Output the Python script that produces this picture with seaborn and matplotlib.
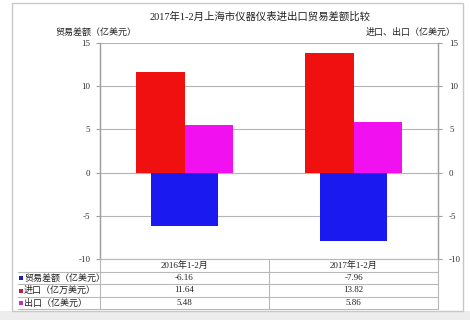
import matplotlib
matplotlib.use('Agg')
import matplotlib.pyplot as plt
import seaborn as sns
import pandas as pd
from matplotlib.patches import Rectangle
from matplotlib.lines import Line2D

# ---- data ----
categories = ['2016年1-2月', '2017年1-2月']
balance = [-6.16, -7.96]
imports = [11.64, 13.82]
exports = [5.48, 5.86]
row_labels = ['贸易差额（亿美元）', '进口（亿万美元）', '出口（亿美元）']
yticks = [-10, -5, 0, 5, 10, 15]
title = '2017年1-2月上海市仪器仪表进出口贸易差额比较'
left_label = '贸易差额（亿美元）'
right_label = '进口、出口（亿美元）'

blue = '#1a1af0'
red = '#f01010'
magenta = '#f010f0'
key_colors = ['#2020b0', '#c02040', '#c030c0']

sns.set_theme(style='white')
plt.rcParams['font.family'] = ['Liberation Serif', 'Noto Sans CJK SC', 'DejaVu Sans']
plt.rcParams['axes.unicode_minus'] = False

W, H = 470, 320
fig = plt.figure(figsize=(4.7, 3.2), dpi=100)
fig.patch.set_facecolor('white')


def fx(x):
    return x / W


def fy(y):
    return 1 - y / H


# outer frame and bottom background
fig.add_artist(Rectangle((0, 0), 1, fy(311), transform=fig.transFigure,
                         facecolor='#ededed', edgecolor='none', zorder=0))
fig.add_artist(Rectangle((fx(12), fy(311)), fx(463) - fx(12), fy(3) - fy(311),
                         transform=fig.transFigure, facecolor='white',
                         edgecolor='#c8c8c8', lw=1.0, zorder=0))

ax = fig.add_axes([fx(100), fy(259), fx(438) - fx(100), fy(43) - fy(259)])
ax2 = ax.twinx()
ax.patch.set_alpha(0)
ax2.patch.set_alpha(0)

# grid
ax.set_axisbelow(True)
ax.yaxis.grid(True, color='#b4b4b4', lw=0.8)

# balance bars (left axis)
sns.barplot(x=categories, y=balance, color=blue, width=0.4, ax=ax,
            saturation=1, edgecolor='none', zorder=2)

# imports / exports (right axis)
df = pd.DataFrame({
    'cat': categories * 2,
    'series': ['进口'] * len(categories) + ['出口'] * len(categories),
    'value': imports + exports,
})
sns.barplot(data=df, x='cat', y='value', hue='series', palette=[red, magenta],
            width=0.57, ax=ax2, saturation=1, edgecolor='none', legend=False)

for a in (ax, ax2):
    a.set_ylim(-10, 15)
    a.set_yticks(yticks)
    a.set_xlim(-0.5, 1.5)
    a.set_xticks([])
    a.set_xlabel('')
    a.set_ylabel('')
    for s in ('top', 'bottom'):
        a.spines[s].set_visible(False)
    a.spines['left'].set_color('#a0a0a0')
    a.spines['right'].set_color('#a0a0a0')
    a.spines['left'].set_linewidth(0.9)
    a.spines['right'].set_linewidth(0.9)

ax.tick_params(axis='y', left=True, direction='out', length=3, width=0.8,
               color='#a0a0a0', labelsize=6.5, pad=4, labelcolor='#333333')
ax2.tick_params(axis='y', right=True, direction='out', length=3, width=0.8,
                color='#a0a0a0', labelsize=6.5, pad=5, labelcolor='#333333')
ax2.yaxis.grid(False)

# titles
fig.text(fx(260), fy(17), title, ha='center', va='center', fontsize=7.5, color='#222222')
fig.text(fx(96), fy(32), left_label, ha='center', va='center', fontsize=6.5, color='#222222')
fig.text(fx(411), fy(32), right_label, ha='center', va='center', fontsize=6.5, color='#222222')

# data table
line_kw = dict(color='#b8b8b8', lw=0.8, transform=fig.transFigure)
col_edges = [100, 269, 438]
row_edges = [272, 284, 297, 309]
fig.add_artist(Line2D([fx(100), fx(438)], [fy(259), fy(259)], **line_kw))
for ry in row_edges:
    fig.add_artist(Line2D([fx(18), fx(438)], [fy(ry), fy(ry)], **line_kw))
for cx in col_edges:
    fig.add_artist(Line2D([fx(cx), fx(cx)], [fy(259), fy(309)], **line_kw))

col_centers = [(col_edges[i] + col_edges[i + 1]) / 2 for i in range(len(categories))]
for cat, cxc in zip(categories, col_centers):
    fig.text(fx(cxc), fy(265.5), cat, ha='center', va='center', fontsize=6.5, color='#222222')

rows = [balance, imports, exports]
row_centers = [(a + b) / 2 for a, b in zip([272, 284, 297], [284, 297, 309])]
for lbl, kc, vals, ryc in zip(row_labels, key_colors, rows, row_centers):
    fig.add_artist(Rectangle((fx(19), fy(ryc + 2)), fx(4), 4 / H,
                             transform=fig.transFigure, facecolor=kc, edgecolor='none'))
    fig.text(fx(24), fy(ryc), lbl, ha='left', va='center', fontsize=6.5, color='#222222')
    for v, cxc in zip(vals, col_centers):
        fig.text(fx(cxc), fy(ryc), f'{v:.2f}', ha='center', va='center',
                 fontsize=6.5, color='#222222')

fig.savefig('out.png', dpi=100, facecolor=fig.get_facecolor())
